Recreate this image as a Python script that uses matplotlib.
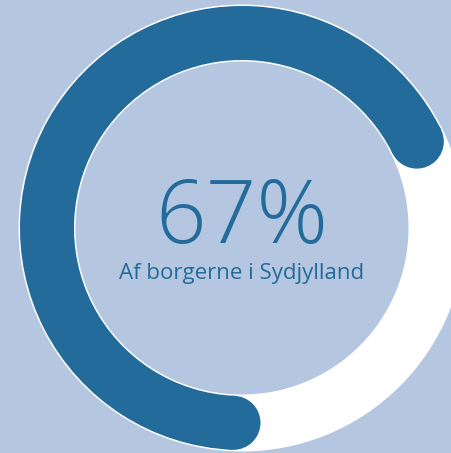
import numpy as np
import matplotlib
matplotlib.use('Agg')
import matplotlib.pyplot as plt
from matplotlib.patches import Wedge, Circle

# data
pct = 67
big_label = '67%'
sub_label = 'Af borgerne i Sydjylland'

bg = '#b5c7e0'
blue = '#236b9a'

W, H = 452, 453
fig = plt.figure(figsize=(W / 100, H / 100), dpi=100)
fig.patch.set_facecolor(bg)
ax = fig.add_axes([0, 0, 1, 1])
ax.set_xlim(0, W)
ax.set_ylim(0, H)
ax.set_aspect('equal')
ax.axis('off')

cx, cy = 242, H - 228
r_out, r_in = 222, 168
width = r_out - r_in
r_mid = (r_out + r_in) / 2

# white track
ax.add_patch(Wedge((cx, cy), r_out + 1.5, 0, 360, width=width + 3, facecolor='white', edgecolor='none'))

# progress arc, clockwise from the bottom
start = 267.5
span = pct / 100 * 360
end = start - span
ax.add_patch(Wedge((cx, cy), r_out, end, start, width=width, facecolor=blue, edgecolor='none'))
for a in (start, end):
    t = np.deg2rad(a)
    ax.add_patch(Circle((cx + r_mid * np.cos(t), cy + r_mid * np.sin(t)), width / 2,
                        facecolor=blue, edgecolor='none'))

ax.text(cx, H - 220, big_label, ha='center', va='center', fontsize=64,
        family='Open Sans', fontweight='light', color=blue)
ax.text(cx, H - 273, sub_label, ha='center', va='center', fontsize=16,
        family='Open Sans', color=blue)

fig.savefig('out.png', dpi=100, facecolor=bg)
